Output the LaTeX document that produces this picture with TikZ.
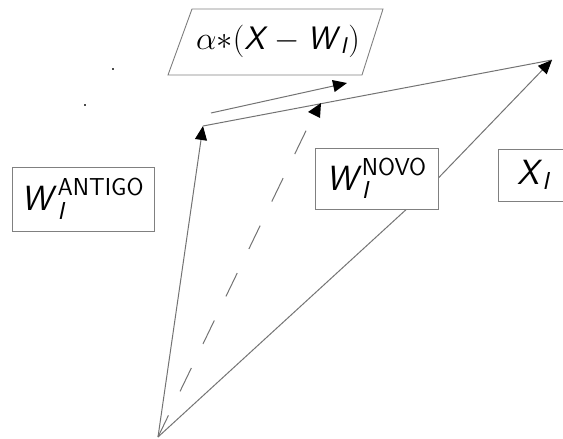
\RequirePackage{fix-cm}
\documentclass[tikz,border=0pt]{standalone}
\usepackage{amsmath}
\usetikzlibrary{arrows.meta}
\definecolor{linegray}{RGB}{115,115,115}
\definecolor{boxgray}{RGB}{128,128,128}
\newcommand\sfit[1]{\textsf{\textit{#1}}}
\begin{document}
\begin{tikzpicture}[x=1pt,y=-1pt,
  lbox/.style={draw=boxgray, line width=0.9pt, fill=white, inner sep=0pt, font=\fontsize{35}{42}\selectfont},
  conn/.style={draw=linegray, line width=1pt},
  tipend/.style={-{Triangle[length=14pt,width=12pt,color=black]}},
  dotmark/.style={fill=black!70, minimum size=2pt, inner sep=0pt, shape=rectangle}]
\useasboundingbox (0,0) rectangle (563,439);
% points
\coordinate (O) at (158,437);
\coordinate (A) at (203,126);
\coordinate (B) at (552,60);
\coordinate (Bend) at (422,195);
\coordinate (Wn) at (317,108);
\coordinate (u1) at (211,113);
\coordinate (u2) at (347,83);
% parallelogram label
\draw[draw=boxgray, line width=0.9pt] (192,9) -- (383,9) -- (362,75) -- (168,75) -- cycle;
\node[font=\fontsize{32.5}{39}\selectfont, inner sep=0pt] (alpha) at (278,41) {$\alpha{*}(\sfit{X} - \sfit{W}_{\sfit{I}})$};
% connectors
\draw[conn, tipend] (O) -- (A);
\draw[conn] (A) -- (B);
\draw[conn, tipend] (O) -- (Bend) -- (B);
\draw[conn, dash pattern=on 26pt off 26.7pt, dash phase=2pt] (O) -- (Wn);
\fill[black] (308,112) -- (321,103) -- (320,118) -- cycle;
\draw[conn, tipend] (u1) -- (u2);
% boxes
\node[lbox, minimum width=142pt, minimum height=64pt] (antigo) at (83,199) {$\sfit{W}_{\sfit{I}}^{\textsf{ANTIGO}}$};
\node[lbox, minimum width=123pt, minimum height=61pt] (novo) at (376.5,178.5) {$\sfit{W}_{\sfit{I}}^{\textsf{NOVO}}$};
\node[lbox, minimum width=72pt, minimum height=52pt] (xi) at (534,175) {$\sfit{X}_{\sfit{I}}$};
% dots
\node[dotmark] (d1) at (113,69) {};
\node[dotmark] (d2) at (85,105) {};
\end{tikzpicture}
\end{document}
